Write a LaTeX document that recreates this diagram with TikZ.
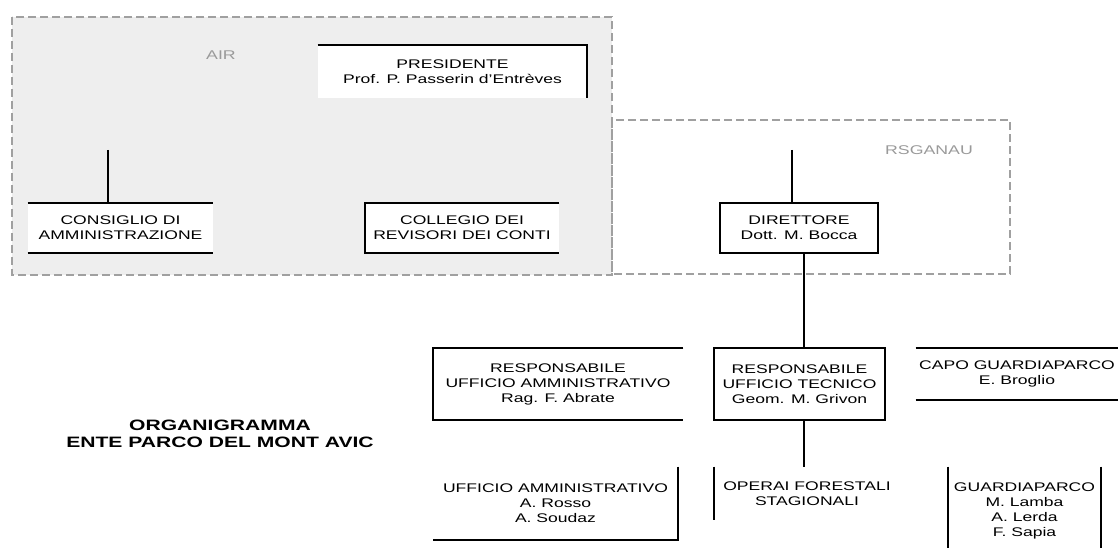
\documentclass[tikz,border=0pt]{standalone}
\usepackage{fontspec}
\setmainfont{Liberation Sans}[FakeStretch=1.4]
\usetikzlibrary{positioning,calc}
\definecolor{ZoneFill}{HTML}{EEEEEE}
\definecolor{ZoneLine}{HTML}{A0A0A0}
\definecolor{ZoneText}{HTML}{9A9A9A}

\begin{document}
\begin{tikzpicture}[
      x=0.75pt,y=-0.75pt,
      orgbox/.style={fill=white,align=center,inner sep=0pt,
                     font=\fontsize{9.4}{11.25}\selectfont},
      link/.style={line width=1.5pt,black},
      zone/.style={draw=ZoneLine,line width=0.9pt,dash pattern=on 6pt off 3pt},
      zonelabel/.style={text=ZoneText,font=\fontsize{9.5}{11}\selectfont},
    ]
    \useasboundingbox (0,0) rectangle (1118,548);

    % zones
    \fill[ZoneFill] (12,17) rectangle (612,275);
    \draw[zone] (12,17) rectangle (612,275);
    \draw[zone] (612,120) rectangle (1010,274);
    \node[zonelabel] (airlbl) at (221,55) {AIR};
    \node[zonelabel] (rsglbl) at (929,150) {RSGANAU};

    % top level
    \node[orgbox,minimum width=201.75pt,minimum height=39.75pt] (pres) at (452.5,71.5)
      {PRESIDENTE\\Prof. P. Passerin d'Entrèves};
    \node[orgbox,minimum width=138.75pt,minimum height=36.75pt] (cons) at (120.5,228)
      {CONSIGLIO DI\\AMMINISTRAZIONE};
    \node[orgbox,minimum width=145.5pt,minimum height=37.5pt] (coll) at (462,228)
      {COLLEGIO DEI\\REVISORI DEI CONTI};
    \node[orgbox,draw,line width=1.5pt,minimum width=118.5pt,minimum height=37.5pt] (dir) at (799,228)
      {DIRETTORE\\Dott. M. Bocca};

    % second level
    \node[orgbox,minimum width=187.5pt,minimum height=54pt] (rammi) at (558,384)
      {RESPONSABILE\\UFFICIO AMMINISTRATIVO\\Rag. F. Abrate};
    \node[orgbox,draw,line width=1.5pt,minimum width=128.25pt,minimum height=54pt] (rtec) at (799.5,384)
      {RESPONSABILE\\UFFICIO TECNICO\\Geom. M. Grivon};
    \node[orgbox,minimum width=151.5pt,minimum height=39pt] (capo) at (1017,374)
      {CAPO GUARDIAPARCO\\E. Broglio};

    % third level
    \node[orgbox,minimum width=183.75pt,minimum height=54.75pt] (uamm) at (555.5,503.5)
      {UFFICIO AMMINISTRATIVO\\A. Rosso\\A. Soudaz};
    \node[orgbox,minimum width=139.5pt,minimum height=39.75pt] (ofor) at (807,493.5)
      {OPERAI FORESTALI\\STAGIONALI};
    \node[orgbox,minimum width=114.75pt,minimum height=66pt] (guard) at (1024.5,511)
      {GUARDIAPARCO\\M. Lamba\\A. Lerda\\F. Sapia};

    \node[align=center,font=\bfseries\fontsize{11.3}{12.9}\selectfont] (title) at (220,434)
      {ORGANIGRAMMA\\ENTE PARCO DEL MONT AVIC};

    % open box sides
    \draw[link] (pres.north west) -- (pres.north east) -- (pres.south east);
    \draw[link] (cons.north west) -- (cons.north east);
    \draw[link] (cons.south west) -- (cons.south east);
    \draw[link] (coll.north east) -- (coll.north west) -- (coll.south west) -- (coll.south east);
    \draw[link] (rammi.north east) -- (rammi.north west) -- (rammi.south west) -- (rammi.south east);
    \draw[link] (capo.north west) -- (capo.north east);
    \draw[link] (capo.south west) -- (capo.south east);
    \draw[link] (uamm.north east) -- (uamm.south east) -- (uamm.south west);
    \draw[link] (ofor.north west) -- (ofor.south west);
    \draw[link] (guard.north west) -- (guard.south west);
    \draw[link] (guard.north east) -- (guard.south east);

    % connectors
    \coordinate (consin) at (108,150);
    \coordinate (dirin) at (792,150);
    \coordinate (tecout) at (804,467);
    \draw[link] (consin) -- (consin |- cons.north);
    \draw[link] (dirin) -- (dirin |- dir.north);
    \draw[link] (tecout |- dir.south) -- (tecout |- rtec.north);
    \draw[link] (tecout |- rtec.south) -- (tecout);
  \end{tikzpicture}
\end{document}
